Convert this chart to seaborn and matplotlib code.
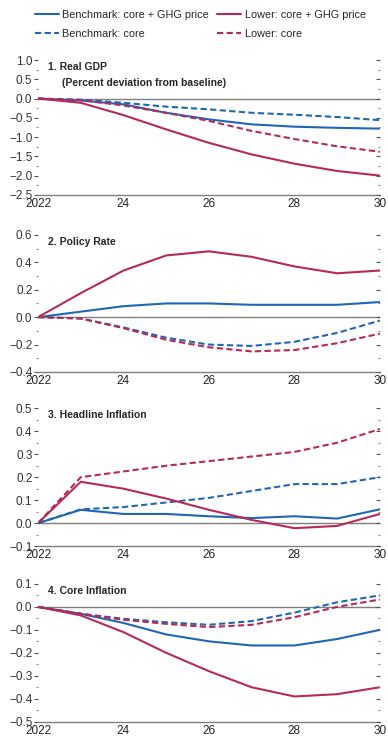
import numpy as np
import pandas as pd
import seaborn as sns
import matplotlib.pyplot as plt

years = list(range(2022, 2031))
series_names = ["Benchmark: core + GHG price", "Benchmark: core",
                "Lower: core + GHG price", "Lower: core"]

# 1. Real GDP
gdp_bench_ghg = [0, -0.05, -0.15, -0.37, -0.54, -0.67, -0.73, -0.76, -0.78]
gdp_bench_core = [0, -0.03, -0.11, -0.21, -0.28, -0.37, -0.42, -0.48, -0.56]
gdp_lower_ghg = [0, -0.11, -0.43, -0.80, -1.15, -1.45, -1.69, -1.88, -2.00]
gdp_lower_core = [0, -0.04, -0.18, -0.37, -0.58, -0.84, -1.05, -1.24, -1.38]

# 2. Policy rate
rate_bench_ghg = [0, 0.04, 0.08, 0.10, 0.10, 0.09, 0.09, 0.09, 0.11]
rate_bench_core = [0, -0.01, -0.075, -0.15, -0.20, -0.21, -0.18, -0.115, -0.025]
rate_lower_ghg = [0, 0.175, 0.34, 0.45, 0.48, 0.44, 0.37, 0.32, 0.34]
rate_lower_core = [0, -0.01, -0.08, -0.165, -0.22, -0.25, -0.24, -0.19, -0.12]

# 3. Headline inflation
head_bench_ghg = [0, 0.058, 0.04, 0.04, 0.03, 0.022, 0.03, 0.02, 0.06]
head_bench_core = [0, 0.06, 0.07, 0.09, 0.11, 0.14, 0.17, 0.17, 0.20]
head_lower_ghg = [0, 0.18, 0.15, 0.107, 0.058, 0.014, -0.022, -0.012, 0.04]
head_lower_core = [0, 0.20, 0.225, 0.25, 0.27, 0.29, 0.31, 0.35, 0.41]

# 4. Core inflation
core_bench_ghg = [0, -0.03, -0.07, -0.12, -0.15, -0.168, -0.168, -0.14, -0.10]
core_bench_core = [0, -0.03, -0.052, -0.067, -0.078, -0.062, -0.025, 0.02, 0.05]
core_lower_ghg = [0, -0.037, -0.11, -0.20, -0.28, -0.35, -0.39, -0.38, -0.35]
core_lower_core = [0, -0.03, -0.056, -0.074, -0.088, -0.078, -0.045, 0.0, 0.032]

panels = [
    ("1. Real GDP", [gdp_bench_ghg, gdp_bench_core, gdp_lower_ghg, gdp_lower_core],
     (-2.5, 1.0), 0.5),
    ("2. Policy Rate", [rate_bench_ghg, rate_bench_core, rate_lower_ghg, rate_lower_core],
     (-0.4, 0.6), 0.2),
    ("3. Headline Inflation", [head_bench_ghg, head_bench_core, head_lower_ghg, head_lower_core],
     (-0.1, 0.5), 0.1),
    ("4. Core Inflation", [core_bench_ghg, core_bench_core, core_lower_ghg, core_lower_core],
     (-0.5, 0.1), 0.1),
]

blue = "#1f67b5"
red = "#b52a58"
palette = {series_names[0]: blue, series_names[1]: blue,
           series_names[2]: red, series_names[3]: red}
dashes = {series_names[0]: "", series_names[1]: (3, 1.6),
          series_names[2]: "", series_names[3]: (3, 1.6)}

sns.set_style("white")
plt.rcParams["font.family"] = ["Liberation Sans", "DejaVu Sans"]
plt.rcParams["axes.unicode_minus"] = True

fig = plt.figure(figsize=(3.88, 7.41), dpi=100)
boxes = [(0.919, 0.737), (0.683, 0.498), (0.449, 0.263), (0.212, 0.026)]
left, right = 0.098, 0.979

def fmt(t):
    t = round(t, 3) + 0.0
    if abs(t) < 1e-9:
        t = 0.0
    return f"{t:.1f}".replace("-", "\u2212")

for (title, vals, ylim, step), (top, bottom) in zip(panels, boxes):
    ax = fig.add_axes([left, bottom, right - left, top - bottom])
    rows = []
    for name, v in zip(series_names, vals):
        for yr, val in zip(years, v):
            rows.append({"year": yr, "value": val, "series": name})
    df = pd.DataFrame(rows)
    ax.axhline(0, color="#7f7f7f", lw=1.0, zorder=1)
    sns.lineplot(data=df, x="year", y="value", hue="series", style="series",
                 palette=palette, dashes=dashes, hue_order=series_names,
                 style_order=series_names, lw=1.5, legend=False, ax=ax, zorder=3)
    ax.set_xlim(2022, 2030)
    ax.set_ylim(*ylim)
    major = np.round(np.arange(ylim[0], ylim[1] + step / 2, step), 3)
    minor = np.round(np.arange(ylim[0] + step / 2, ylim[1], step), 3)
    ax.set_yticks(major)
    ax.set_yticks(minor, minor=True)
    ax.set_yticklabels([fmt(t) for t in major])
    ax.set_xticks(years)
    ax.set_xticklabels(["2022", "", "24", "", "26", "", "28", "", "30"])
    ax.set_xlabel("")
    ax.set_ylabel("")
    for s in ["left", "top", "right"]:
        ax.spines[s].set_visible(False)
    ax.spines["bottom"].set_color("#7f7f7f")
    ax.spines["bottom"].set_linewidth(1.0)
    ax.tick_params(axis="x", direction="in", length=4, width=0.8, color="#7f7f7f",
                   labelsize=8.5, pad=2, labelcolor="#222222")
    ax.tick_params(axis="y", which="major", direction="out", length=3, width=0.8,
                   color="#555555", labelsize=8.5, pad=1, labelcolor="#333333")
    ax.tick_params(axis="y", which="minor", direction="out", length=1.5, width=0.8,
                   color="#888888")
    ax2 = ax.twinx()
    ax2.set_ylim(*ylim)
    ax2.set_yticks(major)
    ax2.set_yticks(minor, minor=True)
    ax2.set_yticklabels([])
    for s in ax2.spines.values():
        s.set_visible(False)
    ax2.tick_params(axis="y", which="major", direction="in", length=3, width=0.8,
                    color="#555555")
    ax2.tick_params(axis="y", which="minor", direction="in", length=1.5, width=0.8,
                    color="#888888")
    ax.text(0.03, 0.985, title, transform=ax.transAxes, fontsize=7.5,
            fontweight="bold", va="top", ha="left")
    if title.startswith("1."):
        ax.text(0.07, 0.87, "(Percent deviation from baseline)", transform=ax.transAxes,
                fontsize=7.5, fontweight="bold", va="top", ha="left")

handles = [plt.Line2D([], [], color=palette[n], lw=1.5,
                      linestyle="-" if dashes[n] == "" else (0, (3, 1.6)))
           for n in series_names]
fig.legend(handles, series_names, ncol=2, frameon=False, fontsize=7.8,
           loc="upper left", bbox_to_anchor=(0.065, 1.0), handlelength=2.2,
           handletextpad=0.3, columnspacing=0.8, labelspacing=0.85)

fig.savefig("out.png", dpi=100)
